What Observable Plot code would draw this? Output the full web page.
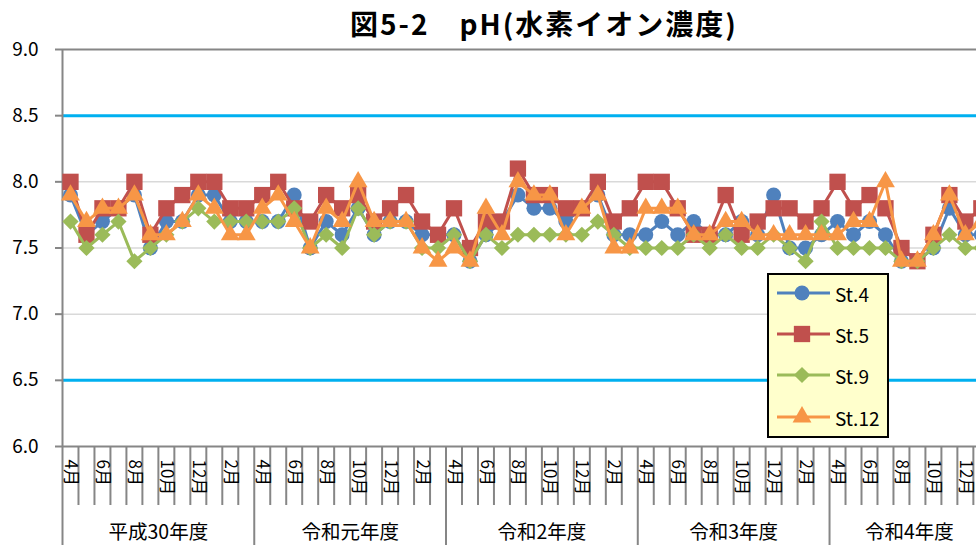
<!DOCTYPE html>
<html><head><meta charset="utf-8">
<script src="https://cdn.jsdelivr.net/npm/d3@7"></script>
<script src="https://cdn.jsdelivr.net/npm/@observablehq/plot@0.6"></script>
<style>
body{margin:0;background:#fff;}
#wrap{position:relative;width:976px;height:545px;overflow:hidden;font-family:'Noto Sans CJK JP',sans-serif;background:#fff;}
#title{position:absolute;left:0;top:0;width:1088px;text-align:center;font-weight:bold;font-size:28px;letter-spacing:2px;line-height:46px;z-index:2;color:#000;white-space:nowrap;}
#chart{position:absolute;left:0;top:32px;width:976px;height:513px;overflow:hidden;}
#legend{position:absolute;left:767px;top:273px;width:118px;height:161px;background:#FFFFCC;border:2px solid #000;z-index:3;}
</style></head>
<body><div id="wrap"><div id="title">図5-2　pH(水素イオン濃度)</div><div id="chart"></div><div id="legend"></div></div>
<script>
const months = ["4月","5月","6月","7月","8月","9月","10月","11月","12月","1月","2月","3月"];
const fiscalYears = ["平成30年度","令和元年度","令和2年度","令和3年度","令和4年度"];
const monthsPerYear = [12,12,12,12,10];
const yTicks = [6.0,6.5,7.0,7.5,8.0,8.5,9.0];
const seriesNames = ["St.4","St.5","St.9","St.12"];
const st4 = [
 7.9,7.6,7.7,7.8,7.9,7.5,7.7,7.7,7.9,7.9,7.7,7.7,
 7.7,7.7,7.9,7.5,7.7,7.6,7.8,7.6,7.7,7.7,7.6,7.6,
 7.6,7.4,7.6,7.7,7.9,7.8,7.8,7.7,7.8,7.9,7.6,7.6,
 7.6,7.7,7.6,7.7,7.6,7.6,7.7,7.6,7.9,7.5,7.5,7.6,
 7.7,7.6,7.7,7.6,7.4,7.4,7.5,7.8,7.6,7.6];
const st5 = [
 8.0,7.6,7.8,7.8,8.0,7.6,7.8,7.9,8.0,8.0,7.8,7.8,
 7.9,8.0,7.8,7.7,7.9,7.8,7.9,7.7,7.8,7.9,7.7,7.6,
 7.8,7.5,7.7,7.7,8.1,7.9,7.9,7.8,7.8,8.0,7.7,7.8,
 8.0,8.0,7.8,7.6,7.6,7.9,7.6,7.7,7.8,7.8,7.7,7.8,
 8.0,7.8,7.9,7.8,7.5,7.4,7.6,7.9,7.7,7.8];
const st9 = [
 7.7,7.5,7.6,7.7,7.4,7.5,7.6,7.7,7.8,7.7,7.7,7.7,
 7.7,7.7,7.8,7.5,7.6,7.5,7.8,7.6,7.7,7.7,7.5,7.5,
 7.6,7.4,7.6,7.5,7.6,7.6,7.6,7.6,7.6,7.7,7.6,7.5,
 7.5,7.5,7.5,7.6,7.5,7.6,7.5,7.5,7.6,7.5,7.4,7.7,
 7.5,7.5,7.5,7.5,7.4,7.4,7.5,7.6,7.5,7.5];
const st12 = [
 7.9,7.7,7.8,7.8,7.9,7.6,7.6,7.7,7.9,7.8,7.6,7.6,
 7.8,7.9,7.7,7.5,7.8,7.7,8.0,7.7,7.7,7.7,7.5,7.4,
 7.5,7.4,7.8,7.6,8.0,7.9,7.9,7.6,7.8,7.9,7.5,7.5,
 7.8,7.8,7.8,7.6,7.6,7.7,7.7,7.6,7.6,7.6,7.6,7.6,
 7.6,7.7,7.7,8.0,7.4,7.4,7.6,7.9,7.6,7.7];

const colors = ["#4F81BD","#C0504D","#9BBB59","#F79646"];
const symbols = ["circle","square","diamond2","triangle"];
const radii = [7.5,9.2,7.3,7];
const seriesData = [st4, st5, st9, st12];

const n = st4.length;
const idx = d3.range(n);
const rows = [];
seriesNames.forEach((s,k)=>seriesData[k].forEach((v,i)=>rows.push({series:s,i,v})));

const yearStarts = d3.cumsum([0, ...monthsPerYear]).slice(0, -1);
const years = fiscalYears.map((name,j)=>({name, start: yearStarts[j], end: yearStarts[j] + monthsPerYear[j]}));
const yearBounds = [...years.map(d=>d.start - 0.5), n - 0.5];
const monthBounds = d3.range(n + 1).map(k=>k - 0.5).filter(b=>!yearBounds.includes(b));
const labelIdx = idx.filter(i=>(i - years.find(y=>i>=y.start && i<y.end).start) % 2 === 0);
const monthOf = i => { const y = years.find(y=>i>=y.start && i<y.end); return months[i - y.start]; };

const step = 15.98;
const chart = Plot.plot({
  width: 976, height: 513,
  marginLeft: 62, marginRight: 0, marginTop: 17, marginBottom: 99,
  x: {type: "linear", domain: [-0.5, n - 0.5], range: [62, 62 + n*step], axis: null},
  y: {domain: [6, 9], range: [414, 17], axis: null},
  style: {fontFamily: "'Noto Sans CJK JP', sans-serif", background: "transparent", overflow: "hidden", color: "#000"},
  marks: [
    Plot.ruleY([7.0, 7.5, 8.0], {stroke: "#D9D9D9", strokeWidth: 1.5}),
    Plot.ruleY([9.0], {stroke: "#868686", strokeWidth: 2}),
    Plot.ruleY([6.5, 8.5], {stroke: "#00B0F0", strokeWidth: 3}),
    Plot.ruleY([6.0], {stroke: "#868686", strokeWidth: 2}),
    Plot.ruleX([-0.5], {y1: 6, y2: 9, stroke: "#868686", strokeWidth: 2}),
    Plot.axisY({ticks: yTicks, tickFormat: d3.format(".1f"), label: null, tickSize: 7, tickPadding: 17, fontSize: 19, stroke: "#868686", strokeWidth: 2, fill: "#000"}),
    Plot.ruleX(monthBounds, {y1: 6, y2: 5.554, stroke: "#868686", strokeWidth: 2}),
    Plot.ruleX(yearBounds, {y1: 6, y2: 5.2, stroke: "#868686", strokeWidth: 2}),
    Plot.text(labelIdx, {x: d=>d, y: 6, text: d=>monthOf(d), rotate: 90, textAnchor: "start", lineAnchor: "middle", dy: 13, fontSize: 17, fill: "#000"}),
    Plot.text(years, {x: d=>(d.start + d.end - 1)/2, y: 5.352, text: "name", fontSize: 19.5, fill: "#000"}),
    ...seriesNames.flatMap((s,k)=>{
      const data = rows.filter(r=>r.series===s);
      return [
        Plot.line(data, {x: "i", y: "v", stroke: colors[k], strokeWidth: 3, strokeLinejoin: "round"}),
        Plot.dot(data, {x: "i", y: "v", fill: colors[k], symbol: symbols[k], r: radii[k], stroke: "none"})
      ];
    })
  ]
});
document.getElementById("chart").appendChild(chart);

// legend
const lg = d3.select("#legend").append("svg").attr("width", 118).attr("height", 161).style("display","block");
const rowY = [20, 61, 102, 144];
seriesNames.forEach((s,k)=>{
  const g = lg.append("g").attr("transform", `translate(0,${rowY[k]-2})`);
  g.append("line").attr("x1", 8).attr("x2", 61).attr("y1", 0).attr("y2", 0).attr("stroke", colors[k]).attr("stroke-width", 3);
  const sym = {circle: d3.symbolCircle, square: d3.symbolSquare, diamond2: d3.symbolDiamond2, triangle: d3.symbolTriangle}[symbols[k]];
  g.append("path").attr("transform", "translate(33,0)").attr("d", d3.symbol(sym, Math.PI*radii[k]*radii[k])()).attr("fill", colors[k]);
  g.append("text").attr("x", 66).attr("y", 0).attr("dominant-baseline", "central").attr("font-size", 19).attr("font-family", "'Noto Sans CJK JP', sans-serif").attr("fill", "#000").text(s);
});
</script>
</body></html>
